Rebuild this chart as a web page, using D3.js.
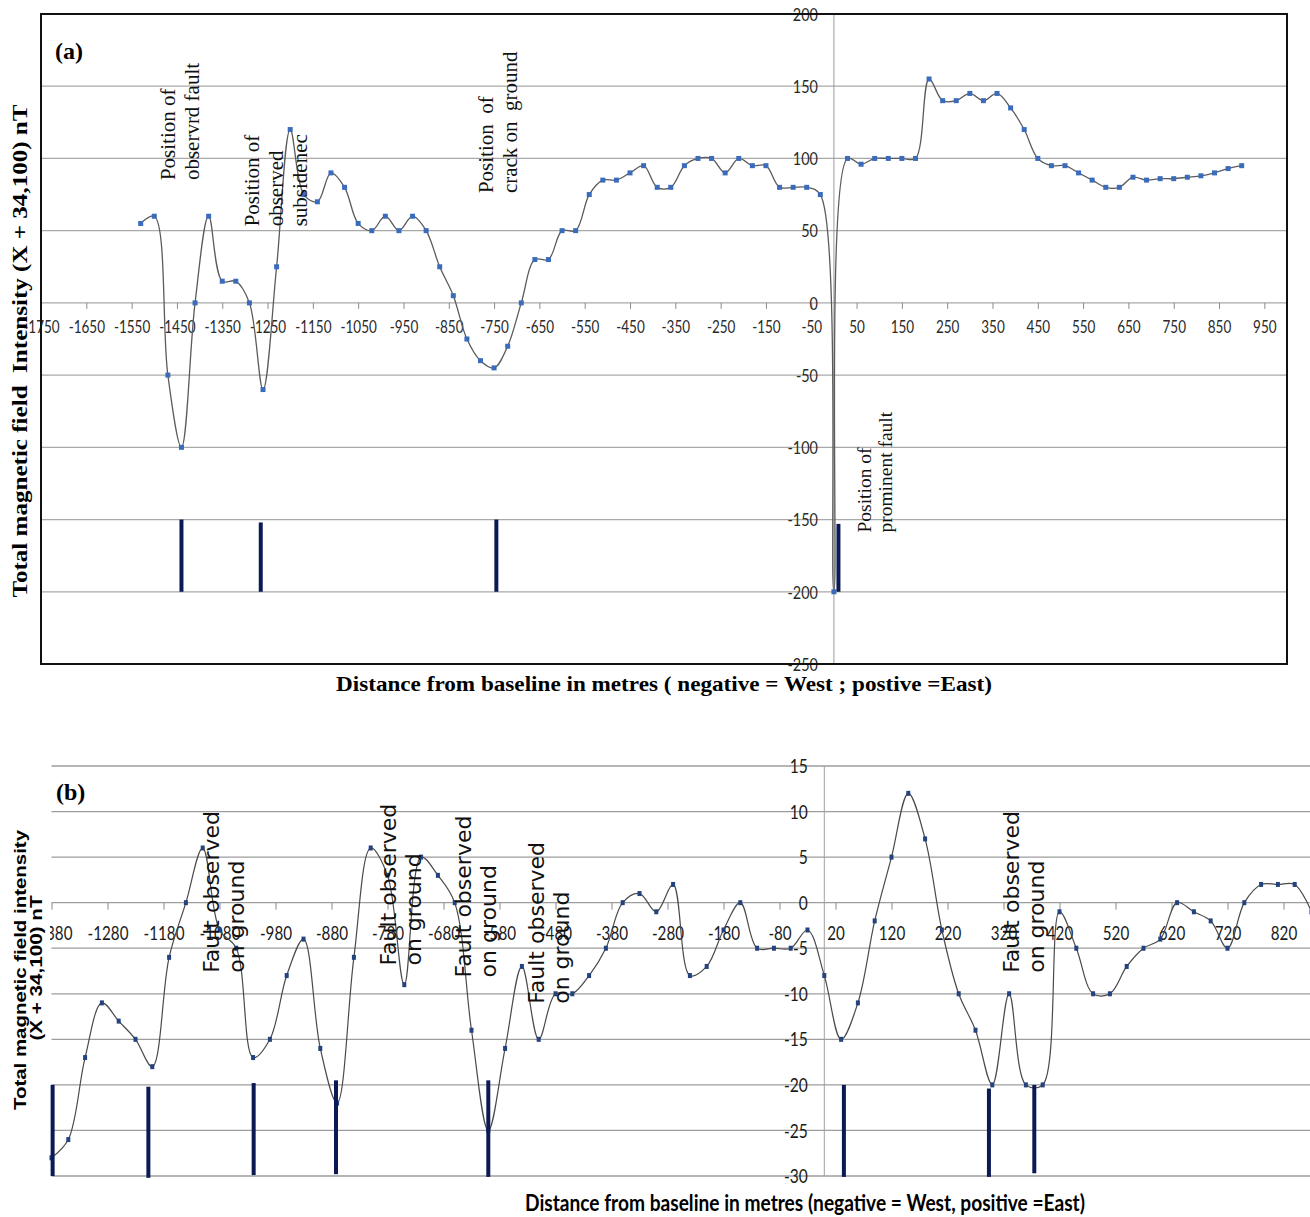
<!DOCTYPE html>
<html>
<head>
<meta charset="utf-8">
<script src="https://cdn.jsdelivr.net/npm/d3@7"></script>
<style>
  body { margin: 0; background: #fff; }
</style>
</head>
<body>
<div id="chart"></div>
<script>
// ---------- Data, panel (a)
const distA = [-1530, -1500, -1470, -1440, -1410, -1380, -1350, -1320, -1290, -1260,
    -1230, -1200, -1170, -1140, -1110, -1080, -1050, -1020, -990, -960,
    -930, -900, -870, -840, -810, -780, -750, -720, -690, -660,
    -630, -600, -570, -540, -510, -480, -450, -420, -390, -360,
    -330, -300, -270, -240, -210, -180, -150, -120, -90, -60,
    -30, 0, 30, 60, 90, 120, 150, 180, 210, 240,
    270, 300, 330, 360, 390, 420, 450, 480, 510, 540,
    570, 600, 630, 660, 690, 720, 750, 780, 810, 840,
    870, 900];
const fieldA = [55, 60, -50, -100, 0, 60, 15, 15, 0, -60,
    25, 120, 75, 70, 90, 80, 55, 50, 60, 50,
    60, 50, 25, 5, -25, -40, -45, -30, 0, 30,
    30, 50, 50, 75, 85, 85, 90, 95, 80, 80,
    95, 100, 100, 90, 100, 95, 95, 80, 80, 80,
    75, -200, 100, 96, 100, 100, 100, 100, 155, 140,
    140, 145, 140, 145, 135, 120, 100, 95, 95, 90,
    85, 80, 80, 87, 85, 86, 86, 87, 88, 90,
    93, 95];
// observed features (x, top, bottom) in chart units
const featureA = [
    { x: -1440, top: -150, bottom: -200 },
    { x: -1265, top: -152, bottom: -200 },
    { x: -745, top: -150, bottom: -200 },
    { x: 10, top: -153, bottom: -200 }
];
const notesA = [
    { x: -1455, y: 85, lines: ['Position of', 'observrd fault'] },
    { x: -1269, y: 53, lines: ['Position of', 'observed', 'subsidenec'] },
    { x: -753, y: 76, lines: ['Position  of', 'crack on  ground'] },
    { x: 81, y: -159, lines: ['Position of', 'prominent fault'] }
];
const ticksAx = [-1750, -1650, -1550, -1450, -1350, -1250, -1150, -1050, -950, -850,
    -750, -650, -550, -450, -350, -250, -150, -50, 50, 150,
    250, 350, 450, 550, 650, 750, 850, 950];
const ticksAy = [200, 150, 100, 50, 0, -50, -100, -150, -200, -250];

// ---------- Data, panel (b)
const distB = [-1380, -1350, -1320, -1290, -1260, -1230, -1200, -1170, -1140, -1110,
    -1080, -1050, -1020, -990, -960, -930, -900, -870, -840, -810,
    -780, -750, -720, -690, -660, -630, -600, -570, -540, -510,
    -480, -450, -420, -390, -360, -330, -300, -270, -240, -210,
    -180, -150, -120, -90, -60, -30, 0, 30, 60, 90,
    120, 150, 180, 210, 240, 270, 300, 330, 360, 390,
    420, 450, 480, 510, 540, 570, 600, 630, 660, 690,
    720, 750, 780, 810, 840, 870];
const fieldB = [-28, -26, -17, -11, -13, -15, -18, -6, 0, 6,
    -3, -5, -17, -15, -8, -4, -16, -22, -6, 6,
    3, -9, 5, 3, 0, -14, -25, -16, -7, -15,
    -10, -10, -8, -5, 0, 1, -1, 2, -8, -7,
    -3, 0, -5, -5, -5, -3, -8, -15, -11, -2,
    5, 12, 7, -3, -10, -14, -20, -10, -20, -20,
    -1, -5, -10, -10, -7, -5, -4, 0, -1, -2,
    -5, 0, 2, 2, 2, -1];
const featureB = [
    { x: -1378, top: -20, bottom: -30 },
    { x: -1207, top: -20.2, bottom: -30.2 },
    { x: -1019, top: -19.8, bottom: -29.9 },
    { x: -872, top: -19.5, bottom: -29.8 },
    { x: -600, top: -19.5, bottom: -30.1 },
    { x: 35, top: -20, bottom: -30.1 },
    { x: 294, top: -20.4, bottom: -30.1 },
    { x: 375, top: -20, bottom: -29.7 }
];
const notesB = [
    { x: -1081, y: -7.7, lines: ['Fault observed', 'on ground'] },
    { x: -765, y: -6.9, lines: ['Fault observed', 'on ground'] },
    { x: -631, y: -8.2, lines: ['Fault observed', 'on ground'] },
    { x: -501, y: -11.1, lines: ['Fault observed', 'on ground'] },
    { x: 347, y: -7.7, lines: ['Fault observed', 'on ground'] }
];
const ticksBx = [-1380, -1280, -1180, -1080, -980, -880, -780, -680, -580, -480,
    -380, -280, -180, -80, 20, 120, 220, 320, 420, 520,
    620, 720, 820];
const ticksBy = [15, 10, 5, 0, -5, -10, -15, -20, -25, -30];

// ---------- Setup
const WIDTH = 1310;
const HEIGHT = 1217;
const GRID = '#a9a9a9';
const NAVY = '#0b1a55';
const svg = d3.select('#chart')
    .append('svg').attr('width', WIDTH).attr('height', HEIGHT);

const pairs = (xs, ys) => xs.map((d, i) => [d, ys[i]]);

// ================= Panel (a) =================
const xA = d3.scaleLinear().domain([-1750, 1000]).range([41, 1287]);
const yA = d3.scaleLinear().domain([-250, 200]).range([664, 14]);
const gA = svg.append('g');

// horizontal gridlines
gA.selectAll('.grid-a').data(ticksAy).join('line')
    .attr('class', 'grid-a')
    .attr('x1', xA.range()[0]).attr('x2', xA.range()[1])
    .attr('y1', d => yA(d)).attr('y2', d => yA(d))
    .attr('stroke', GRID).attr('stroke-width', 1.3);

// vertical axis at x = 0
gA.append('line')
    .attr('x1', xA(0)).attr('x2', xA(0))
    .attr('y1', yA(200)).attr('y2', yA(-250))
    .attr('stroke', '#9a9a9a').attr('stroke-width', 1);

// x axis on the zero line
const xAxisA = d3.axisBottom(xA).tickValues(ticksAx).tickSize(6).tickFormat(d => String(d));
gA.append('g')
    .attr('transform', `translate(0,${yA(0)})`)
    .call(xAxisA)
    .call(g => g.select('.domain').remove())
    .call(g => g.selectAll('line').attr('stroke', '#8a8a8a'))
    .call(g => g.selectAll('text')
        .attr('y', 30).attr('dy', 0)
        .attr('transform', 'scale(0.75,1)')
        .attr('fill', '#2a2a2a')
        .style('font', '18px Lato, "Open Sans", sans-serif'));

// y axis labels
const yAxisA = d3.axisLeft(yA).tickValues(ticksAy).tickSize(0).tickFormat(d => String(d));
gA.append('g')
    .attr('transform', `translate(${xA(0)},0)`)
    .call(yAxisA)
    .call(g => g.select('.domain').remove())
    .call(g => g.selectAll('text')
        .attr('x', -20).attr('dy', '0.35em')
        .attr('transform', 'scale(0.8,1)')
        .attr('fill', '#2a2a2a')
        .style('font', '18px Lato, "Open Sans", sans-serif'));

// smoothed data line and markers
const lineA = d3.line()
    .x(d => xA(d[0])).y(d => yA(d[1]))
    .curve(d3.curveCatmullRom);
gA.append('path')
    .datum(pairs(distA, fieldA))
    .attr('d', lineA)
    .attr('fill', 'none').attr('stroke', '#5b5b5b').attr('stroke-width', 1.3);
gA.selectAll('.pt-a').data(pairs(distA, fieldA)).join('rect')
    .attr('class', 'pt-a')
    .attr('x', d => xA(d[0]) - 2.5).attr('y', d => yA(d[1]) - 2.5)
    .attr('width', 5).attr('height', 5)
    .attr('fill', '#3b6cbc');

// feature bars
gA.selectAll('.feat-a').data(featureA).join('line')
    .attr('class', 'feat-a')
    .attr('x1', d => xA(d.x)).attr('x2', d => xA(d.x))
    .attr('y1', d => yA(d.top)).attr('y2', d => yA(d.bottom))
    .attr('stroke', NAVY).attr('stroke-width', 4);

// rotated notes
notesA.forEach((n, i) => {
    const size = i === 3 ? 19.5 : 21;
    const step = i === 3 ? 21 : 24;
    const g = gA.append('g')
        .attr('transform', `translate(${xA(n.x)},${yA(n.y)}) rotate(-90)`);
    n.lines.forEach((t, j) => {
        g.append('text')
            .attr('x', 0).attr('y', j * step)
            .attr('xml:space', 'preserve')
            .style('white-space', 'pre')
            .style('font', `${size}px "Liberation Serif", "Times New Roman", serif`)
            .attr('fill', '#111')
            .text(t);
    });
});

// frame
gA.append('rect')
    .attr('x', xA.range()[0]).attr('y', yA.range()[1])
    .attr('width', xA.range()[1] - xA.range()[0])
    .attr('height', yA.range()[0] - yA.range()[1])
    .attr('fill', 'none').attr('stroke', '#111').attr('stroke-width', 2);

// titles
gA.append('text')
    .attr('x', 55).attr('y', 59)
    .style('font', 'bold 24px "Liberation Serif", "Times New Roman", serif')
    .text('(a)');
gA.append('text')
    .attr('x', 664).attr('y', 691)
    .attr('text-anchor', 'middle')
    .attr('textLength', 656).attr('lengthAdjust', 'spacingAndGlyphs')
    .style('font', 'bold 21px "Liberation Serif", "Times New Roman", serif')
    .text('Distance from baseline in metres ( negative = West ; postive =East)');
gA.append('text')
    .attr('transform', 'translate(27,351) rotate(-90)')
    .attr('text-anchor', 'middle')
    .attr('textLength', 493).attr('lengthAdjust', 'spacingAndGlyphs')
    .attr('xml:space', 'preserve')
    .style('white-space', 'pre')
    .style('font', 'bold 20px "Liberation Serif", "Times New Roman", serif')
    .text('Total magnetic field  Intensity (X + 34,100) nT');

// ================= Panel (b) =================
const xB = d3.scaleLinear().domain([-1380, 870]).range([51.5, 1311.5]);
const yB = d3.scaleLinear().domain([-30, 15]).range([1176, 766]);
const gB = svg.append('g');

gB.selectAll('.grid-b').data(ticksBy).join('line')
    .attr('class', 'grid-b')
    .attr('x1', xB.range()[0]).attr('x2', WIDTH)
    .attr('y1', d => yB(d)).attr('y2', d => yB(d))
    .attr('stroke', '#9d9d9d').attr('stroke-width', 1.3);

gB.append('line')
    .attr('x1', xB(0)).attr('x2', xB(0))
    .attr('y1', yB(15)).attr('y2', yB(-30))
    .attr('stroke', '#a0a0a0').attr('stroke-width', 1);

svg.append('clipPath').attr('id', 'clip-b')
    .append('rect').attr('x', 50).attr('y', 880).attr('width', WIDTH).attr('height', 80);

const xAxisB = d3.axisBottom(xB).tickValues(ticksBx).tickSize(7).tickFormat(d => String(d));
gB.append('g')
    .attr('clip-path', 'url(#clip-b)')
    .append('g')
    .attr('transform', `translate(0,${yB(0)})`)
    .call(xAxisB)
    .call(g => g.select('.domain').remove())
    .call(g => g.selectAll('line').attr('stroke', '#8a8a8a'))
    .call(g => g.selectAll('text')
        .attr('y', 37).attr('dy', 0)
        .attr('transform', 'scale(0.8,1)')
        .attr('fill', '#1a1a1a')
        .style('font', '19px Lato, "Open Sans", sans-serif'));

const yAxisB = d3.axisLeft(yB).tickValues(ticksBy).tickSize(0).tickFormat(d => String(d));
gB.append('g')
    .attr('transform', `translate(${xB(0)},0)`)
    .call(yAxisB)
    .call(g => g.select('.domain').remove())
    .call(g => g.selectAll('text')
        .attr('x', -20).attr('dy', '0.35em')
        .attr('transform', 'scale(0.82,1)')
        .attr('fill', '#1a1a1a')
        .style('font', '19px Lato, "Open Sans", sans-serif'));

const lineB = d3.line()
    .x(d => xB(d[0])).y(d => yB(d[1]))
    .curve(d3.curveCatmullRom);
gB.append('path')
    .datum(pairs(distB, fieldB))
    .attr('d', lineB)
    .attr('fill', 'none').attr('stroke', '#4a4a4a').attr('stroke-width', 1.2);
gB.selectAll('.pt-b').data(pairs(distB, fieldB)).join('rect')
    .attr('class', 'pt-b')
    .attr('x', d => xB(d[0]) - 2).attr('y', d => yB(d[1]) - 2.5)
    .attr('width', 4).attr('height', 5)
    .attr('fill', '#23427e');

gB.selectAll('.feat-b').data(featureB).join('line')
    .attr('class', 'feat-b')
    .attr('x1', d => xB(d.x)).attr('x2', d => xB(d.x))
    .attr('y1', d => yB(d.top)).attr('y2', d => yB(d.bottom))
    .attr('stroke', NAVY).attr('stroke-width', 4);

notesB.forEach(n => {
    const g = gB.append('g')
        .attr('transform', `translate(${xB(n.x)},${yB(n.y)}) rotate(-90)`);
    n.lines.forEach((t, j) => {
        g.append('text')
            .attr('x', 0).attr('y', j * 25)
            .style('font', '22px "DejaVu Sans", Verdana, sans-serif')
            .attr('fill', '#111')
            .text(t);
    });
});

gB.append('text')
    .attr('x', 56).attr('y', 800)
    .style('font', 'bold 24px "Liberation Serif", "Times New Roman", serif')
    .text('(b)');
gB.append('text')
    .attr('x', 805).attr('y', 1211)
    .attr('text-anchor', 'middle')
    .attr('textLength', 560).attr('lengthAdjust', 'spacingAndGlyphs')
    .style('font', 'bold 22px Lato, "Open Sans", sans-serif')
    .text('Distance from baseline in metres (negative = West, positive =East)');
gB.append('text')
    .attr('transform', 'translate(26,970) rotate(-90)')
    .attr('text-anchor', 'middle')
    .attr('textLength', 280).attr('lengthAdjust', 'spacingAndGlyphs')
    .style('font', 'bold 16px "Liberation Sans", Arial, sans-serif')
    .text('Total magnetic field intensity');
gB.append('text')
    .attr('transform', 'translate(42,968) rotate(-90)')
    .attr('text-anchor', 'middle')
    .attr('textLength', 145).attr('lengthAdjust', 'spacingAndGlyphs')
    .style('font', 'bold 16px "Liberation Sans", Arial, sans-serif')
    .text('(X + 34,100) nT');
</script>
</body>
</html>
